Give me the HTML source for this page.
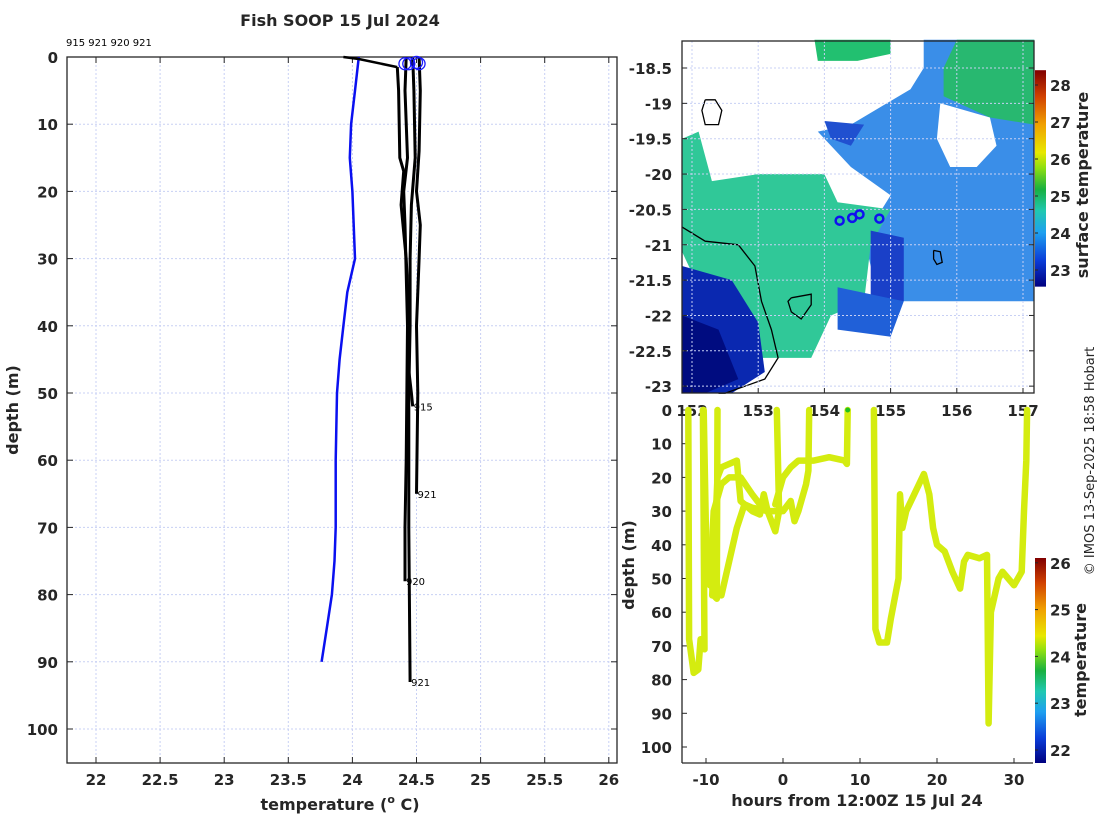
<!DOCTYPE html>
<html><head><meta charset="utf-8"><style>
body{margin:0;background:#fff;width:1100px;height:820px;overflow:hidden;font-family:"Liberation Sans","DejaVu Sans",sans-serif}
svg text{font-family:"DejaVu Sans","Liberation Sans",sans-serif}
.tk{font-size:15px;font-weight:bold;fill:#262626}
.lb{font-size:16px;font-weight:bold;fill:#262626}
.sm{font-size:10px;fill:#000}
</style></head><body>
<svg id="s" width="1100" height="820" viewBox="0 0 1100 820" xmlns="http://www.w3.org/2000/svg">
<defs>
<linearGradient id="jet1" x1="0" y1="1" x2="0" y2="0">
<stop offset="0" stop-color="#00007f"/><stop offset="0.12" stop-color="#0a3cd8"/><stop offset="0.25" stop-color="#1ea0f0"/><stop offset="0.35" stop-color="#20c8b0"/><stop offset="0.45" stop-color="#18b040"/><stop offset="0.55" stop-color="#90e010"/><stop offset="0.62" stop-color="#e8e800"/><stop offset="0.75" stop-color="#f0a000"/><stop offset="0.88" stop-color="#d04000"/><stop offset="1" stop-color="#800000"/>
</linearGradient>
</defs>
<g id="left"></g>
<g id="map"></g>
<g id="tl"></g>
<text x="1094" y="461" transform="rotate(-90 1094 461)" text-anchor="middle" font-size="13" fill="#262626">© IMOS 13-Sep-2025 18:58 Hobart</text>
</svg>
<script>
// ---------- Left profile chart data ----------
const xTicksL = [22,22.5,23,23.5,24,24.5,25,25.5,26];
const yTicksL = [0,10,20,30,40,50,60,70,80,90,100];
const blueTemp  = [24.05,24.02,23.99,23.98,24.0,24.02,23.96,23.93,23.9,23.88,23.87,23.87,23.86,23.84,23.8,23.76];
const blueDepth = [0,5,10,15,20,30,35,40,45,50,60,70,75,80,85,90];
const p915T = [24.35,24.36,24.37,24.4,24.38,24.42,24.44,24.43,24.46,24.47];
const p915D = [1.5,5,15,17,22,30,38,45,50,52];
const p921aT = [24.52,24.53,24.52,24.5,24.53,24.52,24.5,24.51,24.5];
const p921aD = [0,5,14,20,25,30,40,50,65];
const p920T = [24.42,24.41,24.43,24.4,24.41,24.43,24.42,24.41,24.41];
const p920D = [0,5,15,20,25,40,60,70,78];
const p921bT = [24.47,24.48,24.49,24.46,24.45,24.45,24.44,24.44,24.45];
const p921bD = [0,5,15,22,30,40,50,70,93];
const surfT = [23.93,24.05,24.35];
const surfD = [0,0.3,1.5];
const circT = [24.41,24.44,24.5,24.52];
const circD = [1,1,0.8,1];
const profLabels = ["915","921","920","921"];

// ---------- Map data ----------
const lonTicks = [152,153,154,155,156,157];
const latTicks = [-18.5,-19,-19.5,-20,-20.5,-21,-21.5,-22,-22.5,-23];
const shipLon = [154.23,154.42,154.53,154.83];
const shipLat = [-20.66,-20.62,-20.57,-20.63];
const sstTicks = [23,24,25,26,27,28];

// ---------- Depth-time data ----------
const hTicks = [-10,0,10,20,30];
const dTicks = [0,10,20,30,40,50,60,70,80,90,100];
const tempTicks = [22,23,24,25,26];
const trackH = [
 [-12.3,-12.2,-11.6,-11,-10.7,-10.2,-10.4],
 [-10.3,-9.9,-9.3,-9,-8.6,-8.5],
 [-9.2,-8.5,-8,-6,-5.5,-4,-3,-2.5,-2,-1,-0.5,-0.8],
 [-9.5,-9,-8,-7,-5.5,-4,-3,-2],
 [-8,-7,-6,-5,-4,-2,0,1,1.5,2,3,3.3,3.4],
 [-1,0,1,2,4,6,8,8.3,8.4],
 [11.8,12,12.5,13.5,14,15,15.2,15.5,16,18.3,19,19.5,20,21,22,23,23.5,24,25.5,26.5,26.7,27,27.3,28,28.5,30,31,31.3,31.6,31.7]
];
const trackD = [
 [0,68,78,77,68,71,0],
 [0,50,51,55,56,0],
 [55,20,17,15,27,30,31,25,30,36,30,0],
 [52,30,22,20,20,25,28,30],
 [55,45,35,28,29,30,30,27,33,30,22,18,0],
 [28,20,17,15,15,14,15,16,0],
 [0,65,69,69,62,50,25,35,30,19,25,35,40,42,48,53,45,43,44,43,93,60,57,50,48,52,48,30,15,0]
];

const NS="http://www.w3.org/2000/svg";
function mk(parent,tag,attrs,name,inter){const e=document.createElementNS(NS,tag);for(const k in attrs)e.setAttribute(k,attrs[k]);


parent.appendChild(e);return e;}
function txt(parent,x,y,s,cls,anchor,name){const t=mk(parent,'text',{x:x,y:y,'class':cls,'text-anchor':anchor||'middle'},name,false);t.textContent=s;return t;}

// ===== Left chart =====
const L=document.getElementById('left');
const lx0=67,lx1=617,ly0=57,ly1=763;
const xL=v=>96+(v-22)*128.2;
const yL=d=>57+d*6.72;
for(const v of xTicksL){mk(L,'line',{x1:xL(v),x2:xL(v),y1:ly0,y2:ly1,stroke:'#c8d0f4','stroke-dasharray':'2 2'},'x-gridline',false);
 mk(L,'line',{x1:xL(v),x2:xL(v),y1:ly1,y2:ly1-6,stroke:'#262626'},'x-tick',false);
 mk(L,'line',{x1:xL(v),x2:xL(v),y1:ly0,y2:ly0+6,stroke:'#262626'},'x-tick',false);
 txt(L,xL(v),785,String(v),'tk','middle','x-tick-label');}
for(const d of yTicksL){mk(L,'line',{x1:lx0,x2:lx1,y1:yL(d),y2:yL(d),stroke:'#c8d0f4','stroke-dasharray':'2 2'},'y-gridline',false);
 mk(L,'line',{x1:lx0,x2:lx0+6,y1:yL(d),y2:yL(d),stroke:'#262626'},'y-tick',false);
 mk(L,'line',{x1:lx1,x2:lx1-6,y1:yL(d),y2:yL(d),stroke:'#262626'},'y-tick',false);
 txt(L,58,yL(d)+6,String(d),'tk','end','y-tick-label');}
mk(L,'rect',{x:lx0,y:ly0,width:lx1-lx0,height:ly1-ly0,fill:'none',stroke:'#262626','stroke-width':1.3},'plot-frame',false);
function poly(g,T,D,fx,fy,attrs,name){const pts=T.map((t,i)=>fx(t).toFixed(1)+','+fy(D[i]).toFixed(1)).join(' ');return mk(g,'polyline',Object.assign({points:pts,fill:'none'},attrs),name,false);}
poly(L,blueTemp,blueDepth,xL,yL,{stroke:'#0a10f0','stroke-width':2.5},'mean-profile-line');
const profs=[[p915T,p915D],[p921aT,p921aD],[p920T,p920D],[p921bT,p921bD]];
profs.forEach((p,i)=>{poly(L,p[0],p[1],xL,yL,{stroke:'#000','stroke-width':3},'profile-'+profLabels[i]);
 txt(L,xL(p[0][p[0].length-1])+1,yL(p[1][p[1].length-1])+4,profLabels[i],'sm','start','profile-label');});
poly(L,surfT,surfD,xL,yL,{stroke:'#000','stroke-width':2.5},'surface-segment');
circT.forEach((t,i)=>mk(L,'circle',{cx:xL(t),cy:yL(circD[i]),r:6,fill:'none',stroke:'#1a1aff','stroke-width':1.3},'profile-start-marker',false));
txt(L,66,46,profLabels.join(' '),'sm','start','profile-id-list');
txt(L,340,26,'Fish SOOP 15 Jul 2024','lb','middle','chart-title').setAttribute('font-size','17');
const xl=mk(L,'text',{x:340,y:810,'class':'lb','text-anchor':'middle'},'x-axis-title',false);
xl.innerHTML='temperature (<tspan font-size="11" dy="-7">o</tspan><tspan dy="7"> C)</tspan>';
const yl=txt(L,18,410,'depth (m)','lb','middle','y-axis-title');yl.setAttribute('transform','rotate(-90 18 410)');

// ===== Map =====
const M=document.getElementById('map');
const mx0=682,mx1=1034,my0=41,my1=393;
const xM=lon=>692+(lon-152)*66.2;
const yM=lat=>68+(-18.5-lat)*70.7;
mk(M,'rect',{x:mx0,y:my0,width:mx1-mx0,height:my1-my0,fill:'#fff'},'map-background',false);
function region(coords,fill,name){mk(M,'polygon',{points:coords.map(c=>xM(c[0]).toFixed(1)+','+yM(c[1]).toFixed(1)).join(' '),fill:fill},name,false);}
region([[155.5,-18.1],[157.17,-18.1],[157.17,-21.8],[155,-21.8],[154.7,-21.3],[154.6,-20.9],[155,-20.3],[154.4,-19.9],[153.9,-19.4],[154.4,-19.3],[155.3,-18.8],[155.5,-18.5]],'#3a8ee8','sst-blue-region');
region([[156,-18.1],[157.17,-18.1],[157.17,-19.3],[156.5,-19.2],[155.8,-18.9],[155.8,-18.5]],'#28b870','sst-green-ne');
region([[153.85,-18.1],[155,-18.1],[155,-18.3],[154.5,-18.4],[153.9,-18.4]],'#22c070','sst-green-n');
region([[155.75,-19.0],[156.5,-19.2],[156.6,-19.6],[156.3,-19.9],[155.9,-19.9],[155.7,-19.5]],'#ffffff','cloud-hole');
region([[151.85,-19.5],[152.1,-19.4],[152.3,-20.1],[153,-20],[154,-20],[154.2,-20.4],[155,-20.5],[154.7,-21],[154.6,-21.8],[154.1,-22],[153.8,-22.6],[153,-22.6],[152.3,-22],[151.85,-21.1]],'#30c898','sst-teal-band');
region([[151.85,-21.3],[152.6,-21.5],[153,-22.1],[153.1,-22.8],[152.6,-23.1],[151.85,-23.1]],'#0a28b0','sst-dark-sw');
region([[151.85,-22.0],[152.4,-22.2],[152.7,-22.9],[152.2,-23.1],[151.85,-23.1]],'#000c80','sst-darkest-sw');
region([[154.7,-20.8],[155.2,-20.9],[155.2,-21.8],[154.7,-21.8]],'#1a40c8','sst-dark-patch');
region([[154.2,-21.6],[155.2,-21.8],[155,-22.3],[154.2,-22.2]],'#2060d8','sst-scatter-patch');
region([[154,-19.25],[154.6,-19.3],[154.4,-19.6],[154.1,-19.5]],'#2050d0','sst-dark-n');
const coastLon=[151.85,152.2,152.7,152.95,153.05,153.2,153.3,153.1,152.8,152.5,152.4];
const coastLat=[-20.75,-20.95,-21.0,-21.3,-21.8,-22.2,-22.6,-22.9,-23.0,-23.1,-23.1];
poly(M,coastLon,coastLat,xM,yM,{stroke:'#000','stroke-width':1.3},'coastline');
const isl1Lon=[153.5,153.8,153.8,153.65,153.5,153.45,153.5],isl1Lat=[-21.75,-21.7,-21.85,-22.05,-21.95,-21.8,-21.75];
poly(M,isl1Lon,isl1Lat,xM,yM,{stroke:'#000','stroke-width':1.3},'island-outline');
const isl2Lon=[152.2,152.35,152.45,152.4,152.2,152.15,152.2],isl2Lat=[-18.95,-18.95,-19.1,-19.3,-19.3,-19.1,-18.95];
poly(M,isl2Lon,isl2Lat,xM,yM,{stroke:'#000','stroke-width':1.3},'island-outline');
const isl3Lon=[155.65,155.75,155.78,155.7,155.65,155.65],isl3Lat=[-21.08,-21.1,-21.25,-21.28,-21.2,-21.08];
poly(M,isl3Lon,isl3Lat,xM,yM,{stroke:'#000','stroke-width':1.3},'island-outline');
for(const v of lonTicks){mk(M,'line',{x1:xM(v),x2:xM(v),y1:my0,y2:my1,stroke:'#c8d0f4','stroke-dasharray':'2 2'},'lon-gridline',false);
 mk(M,'line',{x1:xM(v),x2:xM(v),y1:my1,y2:my1-5,stroke:'#262626'},'lon-tick',false);
 txt(M,xM(v),416,String(v),'tk','middle','lon-tick-label');}
for(const v of latTicks){mk(M,'line',{x1:mx0,x2:mx1,y1:yM(v),y2:yM(v),stroke:'#c8d0f4','stroke-dasharray':'2 2'},'lat-gridline',false);
 mk(M,'line',{x1:mx0,x2:mx0+5,y1:yM(v),y2:yM(v),stroke:'#262626'},'lat-tick',false);
 mk(M,'line',{x1:mx1,x2:mx1-5,y1:yM(v),y2:yM(v),stroke:'#262626'},'lat-tick',false);
 txt(M,672,yM(v)+6,String(v),'tk','end','lat-tick-label');}
shipLon.forEach((l,i)=>mk(M,'circle',{cx:xM(l),cy:yM(shipLat[i]),r:4,fill:'none',stroke:'#1010f0','stroke-width':2.5},'ship-position',false));
mk(M,'rect',{x:mx0,y:my0,width:mx1-mx0,height:my1-my0,fill:'none',stroke:'#262626','stroke-width':1.3},'map-frame',false);
const cbY=v=>270-(v-23)*37;
mk(M,'rect',{x:1035,y:cbY(28.4),width:11,height:cbY(22.55)-cbY(28.4),fill:'url(#jet1)'},'sst-colorbar',false);
for(const v of sstTicks){mk(M,'line',{x1:1035,x2:1038,y1:cbY(v),y2:cbY(v),stroke:'#262626'},'sst-colorbar-tick',false);
 txt(M,1050,cbY(v)+6,String(v),'tk','start','sst-colorbar-label');}
const st=txt(M,1088,185,'surface temperature','lb','middle','sst-colorbar-title');st.setAttribute('transform','rotate(-90 1088 185)');st.setAttribute('font-size','15');

// ===== Depth-time =====
const T=document.getElementById('tl');
const tx0=682,tx1=1033,ty0=410,ty1=763;
const xT=h=>783+h*7.7;
const yT=d=>410+d*3.37;
mk(T,'line',{x1:tx0,x2:tx0,y1:ty0,y2:ty1,stroke:'#262626','stroke-width':1.3},'y-axis-line',false);
mk(T,'line',{x1:tx0,x2:tx1,y1:ty1,y2:ty1,stroke:'#262626','stroke-width':1.3},'x-axis-line',false);
for(const v of hTicks){mk(T,'line',{x1:xT(v),x2:xT(v),y1:ty1,y2:ty1-5,stroke:'#262626'},'x-tick',false);
 txt(T,xT(v),785,String(v),'tk','middle','x-tick-label');}
for(const v of dTicks){mk(T,'line',{x1:tx0,x2:tx0+5,y1:yT(v),y2:yT(v),stroke:'#262626'},'y-tick',false);
 txt(T,672,yT(v)+6,String(v),'tk','end','y-tick-label');}
trackH.forEach((H,i)=>poly(T,H,trackD[i],xT,yT,{stroke:'#d4ec10','stroke-width':6.5,'stroke-linejoin':'round','stroke-linecap':'round'},'track-segment'));
mk(T,'circle',{cx:xT(8.4),cy:yT(0),r:2.5,fill:'#20c020'},'surface-point',false);
txt(T,857,806,'hours from 12:00Z 15 Jul 24','lb','middle','x-axis-title');
const yl2=txt(T,634,565,'depth (m)','lb','middle','y-axis-title');yl2.setAttribute('transform','rotate(-90 634 565)');
const cbY2=v=>750-(v-22)*46.8;
mk(T,'rect',{x:1035,y:558,width:11,height:205,fill:'url(#jet1)'},'temp-colorbar',false);
for(const v of tempTicks){mk(T,'line',{x1:1035,x2:1038,y1:cbY2(v),y2:cbY2(v),stroke:'#262626'},'temp-colorbar-tick',false);
 txt(T,1050,cbY2(v)+6,String(v),'tk','start','temp-colorbar-label');}
const tt=txt(T,1086,660,'temperature','lb','middle','temp-colorbar-title');tt.setAttribute('transform','rotate(-90 1086 660)');tt.setAttribute('font-size','15');
</script>
</body></html>
